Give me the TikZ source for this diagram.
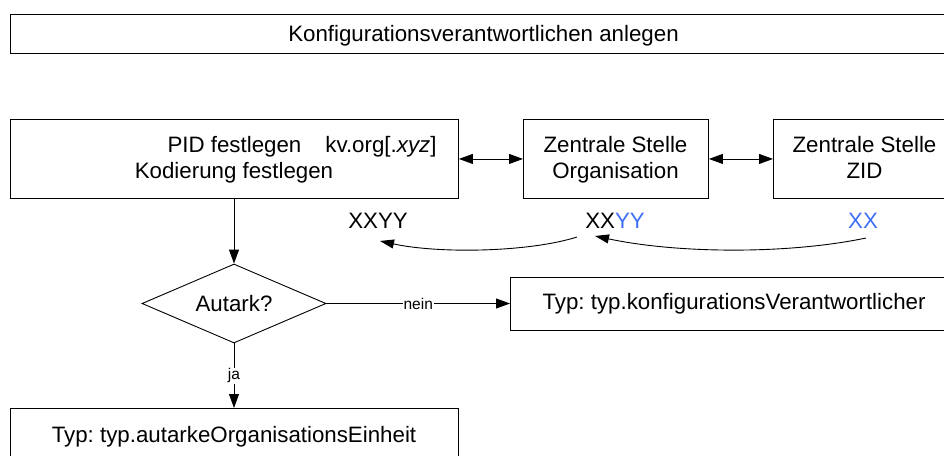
\documentclass[tikz,border=0pt]{standalone}
\usepackage{fontspec}
\setmainfont{Liberation Sans}
\usetikzlibrary{arrows.meta,shapes.geometric}
\definecolor{xblue}{HTML}{3F6FF5}
\frenchspacing
\begin{document}
\begin{tikzpicture}[x=1pt,y=-1pt,
  every node/.style={font=\fontsize{22.3}{26}\selectfont, inner sep=0pt},
  box/.style={draw, line width=0.9pt, minimum width=#1, anchor=north west},
  arr/.style={line width=0.9pt, -{Triangle[length=14pt,width=10pt]}},
  darr/.style={line width=0.9pt, {Triangle[length=14pt,width=10pt]}-{Triangle[length=14pt,width=10pt]}},
  carr/.style={line width=0.9pt, -{Triangle[length=14pt,width=9pt]}},
  lbl/.style={font=\fontsize{15.5}{18}\selectfont, fill=white, inner sep=1pt}]
\useasboundingbox (0,0) rectangle (944,455);
\clip (0,0) rectangle (944,455);
% top box
\node[box=947pt, minimum height=39pt] (top) at (10,14) {};
\node[anchor=base] (toptext) at (483.5,41) {Konfigurationsverantwortlichen anlegen};
% PID box
\node[box=448pt, minimum height=79pt] (pid) at (10,119) {};
\node[anchor=base] (pid1) at (302,152) {PID festlegen\hspace{24pt}kv.org[.\textit{xyz}]};
\node[anchor=base] (pid2) at (234,178) {Kodierung festlegen};
% Zentrale Stelle Organisation
\node[box=185pt, minimum height=79pt] (org) at (523,119) {};
\node[anchor=base] (org1) at (615.5,152) {Zentrale Stelle};
\node[anchor=base] (org2) at (615.5,178) {Organisation};
% Zentrale Stelle ZID
\node[box=184pt, minimum height=79pt] (zid) at (773,119) {};
\node[anchor=base] (zid1) at (864.5,152) {Zentrale Stelle};
\node[anchor=base] (zid2) at (864.5,178) {ZID};
\draw[darr] (pid.east) -- (org.west);
\draw[darr] (org.east) -- (zid.west);
% codes
\node[anchor=base] (xx1) at (378,228) {XXYY};
\node[anchor=base] (xx2) at (615,228) {XX\textcolor{xblue}{YY}};
\node[anchor=base] (xx3) at (863,228) {\textcolor{xblue}{XX}};
\coordinate (c3s) at (866,238);
\coordinate (c2e) at (595,236);
\coordinate (c2s) at (577,237);
\coordinate (c1e) at (380,241);
\draw[carr] (c3s) .. controls (790,254) and (680,254) .. (c2e);
\draw[carr] (c2s) .. controls (530,252) and (440,254) .. (c1e);
% diamond
\node[draw, diamond, line width=0.9pt, minimum width=184pt, minimum height=79pt, aspect=2.33] (aut) at (234,303.5) {Autark?};
\draw[arr] (pid.south -| aut.north) -- (aut.north);
% Typ konfig
\node[box=448pt, minimum height=53pt] (konf) at (510,277) {};
\node (konft) at (734,303.5) {Typ: typ.konfigurationsVerantwortlicher};
\draw[arr] (aut.east) -- node[lbl] {nein} (aut.east -| konf.west);
% bottom box
\node[box=448pt, minimum height=50pt] (aoe) at (10,408) {};
\node[anchor=base] (aoet) at (234,442) {Typ: typ.autarkeOrganisationsEinheit};
\draw[arr] (aut.south) -- node[lbl, pos=0.5] {ja} (aut.south |- aoe.north);
\end{tikzpicture}
\end{document}
